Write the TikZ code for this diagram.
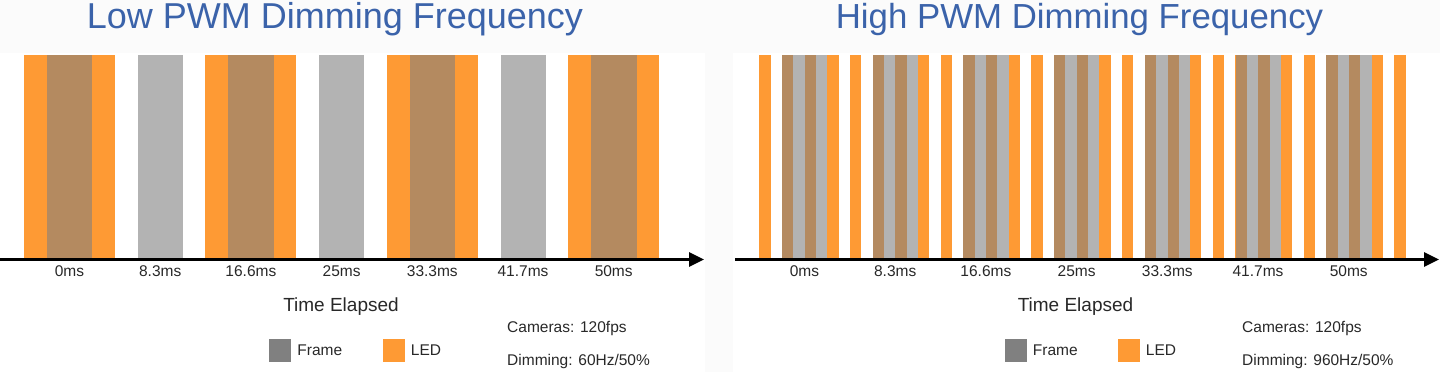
\documentclass[tikz,border=0pt]{standalone}
\usepackage{fontspec}
\setmainfont{Liberation Sans}
\usetikzlibrary{arrows.meta,positioning}

\definecolor{ledorange}{RGB}{254,154,52}
\definecolor{framegray}{RGB}{179,179,179}
\definecolor{overlap}{RGB}{180,138,96}
\definecolor{legendgray}{RGB}{128,128,128}
\definecolor{titleblue}{RGB}{59,99,170}
\definecolor{labeltext}{RGB}{40,40,40}
\definecolor{paper}{RGB}{251,251,251}

\tikzset{
  timeaxis/.style={line width=3pt,-{Triangle[length=15pt,width=14pt]}},
  headline/.style={font=\fontsize{#1}{#1}\selectfont,text=titleblue,anchor=base,inner sep=0pt},
  ticklabel/.style={font=\fontsize{15.5}{15.5}\selectfont,text=labeltext,anchor=base,inner sep=0pt},
  axistitle/.style={font=\fontsize{19}{19}\selectfont,text=labeltext,anchor=base,inner sep=0pt},
  smalltext/.style={font=\fontsize{15.5}{15.5}\selectfont,text=labeltext,inner sep=0pt},
  swatch/.style={minimum width=22pt,minimum height=23pt,inner sep=0pt,fill=#1}
}

\begin{document}
\begin{tikzpicture}[x=1pt,y=-1pt]
        \useasboundingbox (0,0) rectangle (1440,372);
        % faint page texture
        \fill [paper] (0,0) rectangle (1440,53);
        \fill [paper] (705,0) rectangle (733,372);

        % low frequency: 60Hz LED, 120fps frames
        \foreach \k in {0,2,4,6}{
            \fill [ledorange] (24+\k*90.7,55) rectangle (114.7+\k*90.7,258);
        }
        \foreach \k/\c in {0/overlap,1/framegray,2/overlap,3/framegray,4/overlap,5/framegray,6/overlap}{
            \fill [\c] (47+\k*90.7,55) rectangle (92.3+\k*90.7,258);
        }

        % high frequency: LED pulses every quarter frame
        \foreach \j in {0,...,28}{
            \fill [ledorange] (759.3+\j*22.675,55) rectangle (770.6+\j*22.675,258);
        }
        \foreach \k in {0,...,6}{
            \fill [framegray] (782+\k*90.7,55) rectangle (827.3+\k*90.7,258);
            \fill [overlap] (782+\k*90.7,55) rectangle (793.3+\k*90.7,258);
            \fill [overlap] (804.7+\k*90.7,55) rectangle (816+\k*90.7,258);
        }

        % time axes
        \coordinate (lowstart) at (0,259.5);
        \coordinate (lowend) at (704,259.5);
        \coordinate (highstart) at (735,259.5);
        \coordinate (highend) at (1439,259.5);
        \draw [timeaxis] (lowstart) -- (lowend);
        \draw [timeaxis] (highstart) -- (highend);

        \foreach \t [count=\k from 0] in {0ms,8.3ms,16.6ms,25ms,33.3ms,41.7ms,50ms}{
            \node [ticklabel] (lowtick\k) at (69.5+\k*90.7,276) {\t};
            \node [ticklabel] (hightick\k) at (804.5+\k*90.7,276) {\t};
        }

        \node [headline=36] (lowtitle) at (335,28.5) {Low PWM Dimming Frequency};
        \node [headline=34.8] (hightitle) at (1079.5,28.5) {High PWM Dimming Frequency};

        \node [axistitle] (lowelapsed) at (341,311) {Time Elapsed};
        \node [axistitle] (highelapsed) at (1075.5,311) {Time Elapsed};

        % legends
        \node [swatch=legendgray] (lowframe) at (280,350.5) {};
        \node [smalltext,right=6pt of lowframe] (lowframetext) {Frame};
        \node [swatch=ledorange] (lowled) at (393.5,350.5) {};
        \node [smalltext,right=6pt of lowled] (lowledtext) {LED};
        \node [swatch=legendgray] (highframe) at (1015.5,350.5) {};
        \node [smalltext,right=6pt of highframe] (highframetext) {Frame};
        \node [swatch=ledorange] (highled) at (1128.5,350.5) {};
        \node [smalltext,right=6pt of highled] (highledtext) {LED};

        \node [smalltext,anchor=base west] (lowcam) at (507,332) {Cameras: 120fps};
        \node [smalltext,anchor=base west] (lowdim) at (507,365) {Dimming: 60Hz/50\%};
        \node [smalltext,anchor=base west] (highcam) at (1242,332) {Cameras: 120fps};
        \node [smalltext,anchor=base west] (highdim) at (1242,365) {Dimming: 960Hz/50\%};

\end{tikzpicture}
\end{document}
